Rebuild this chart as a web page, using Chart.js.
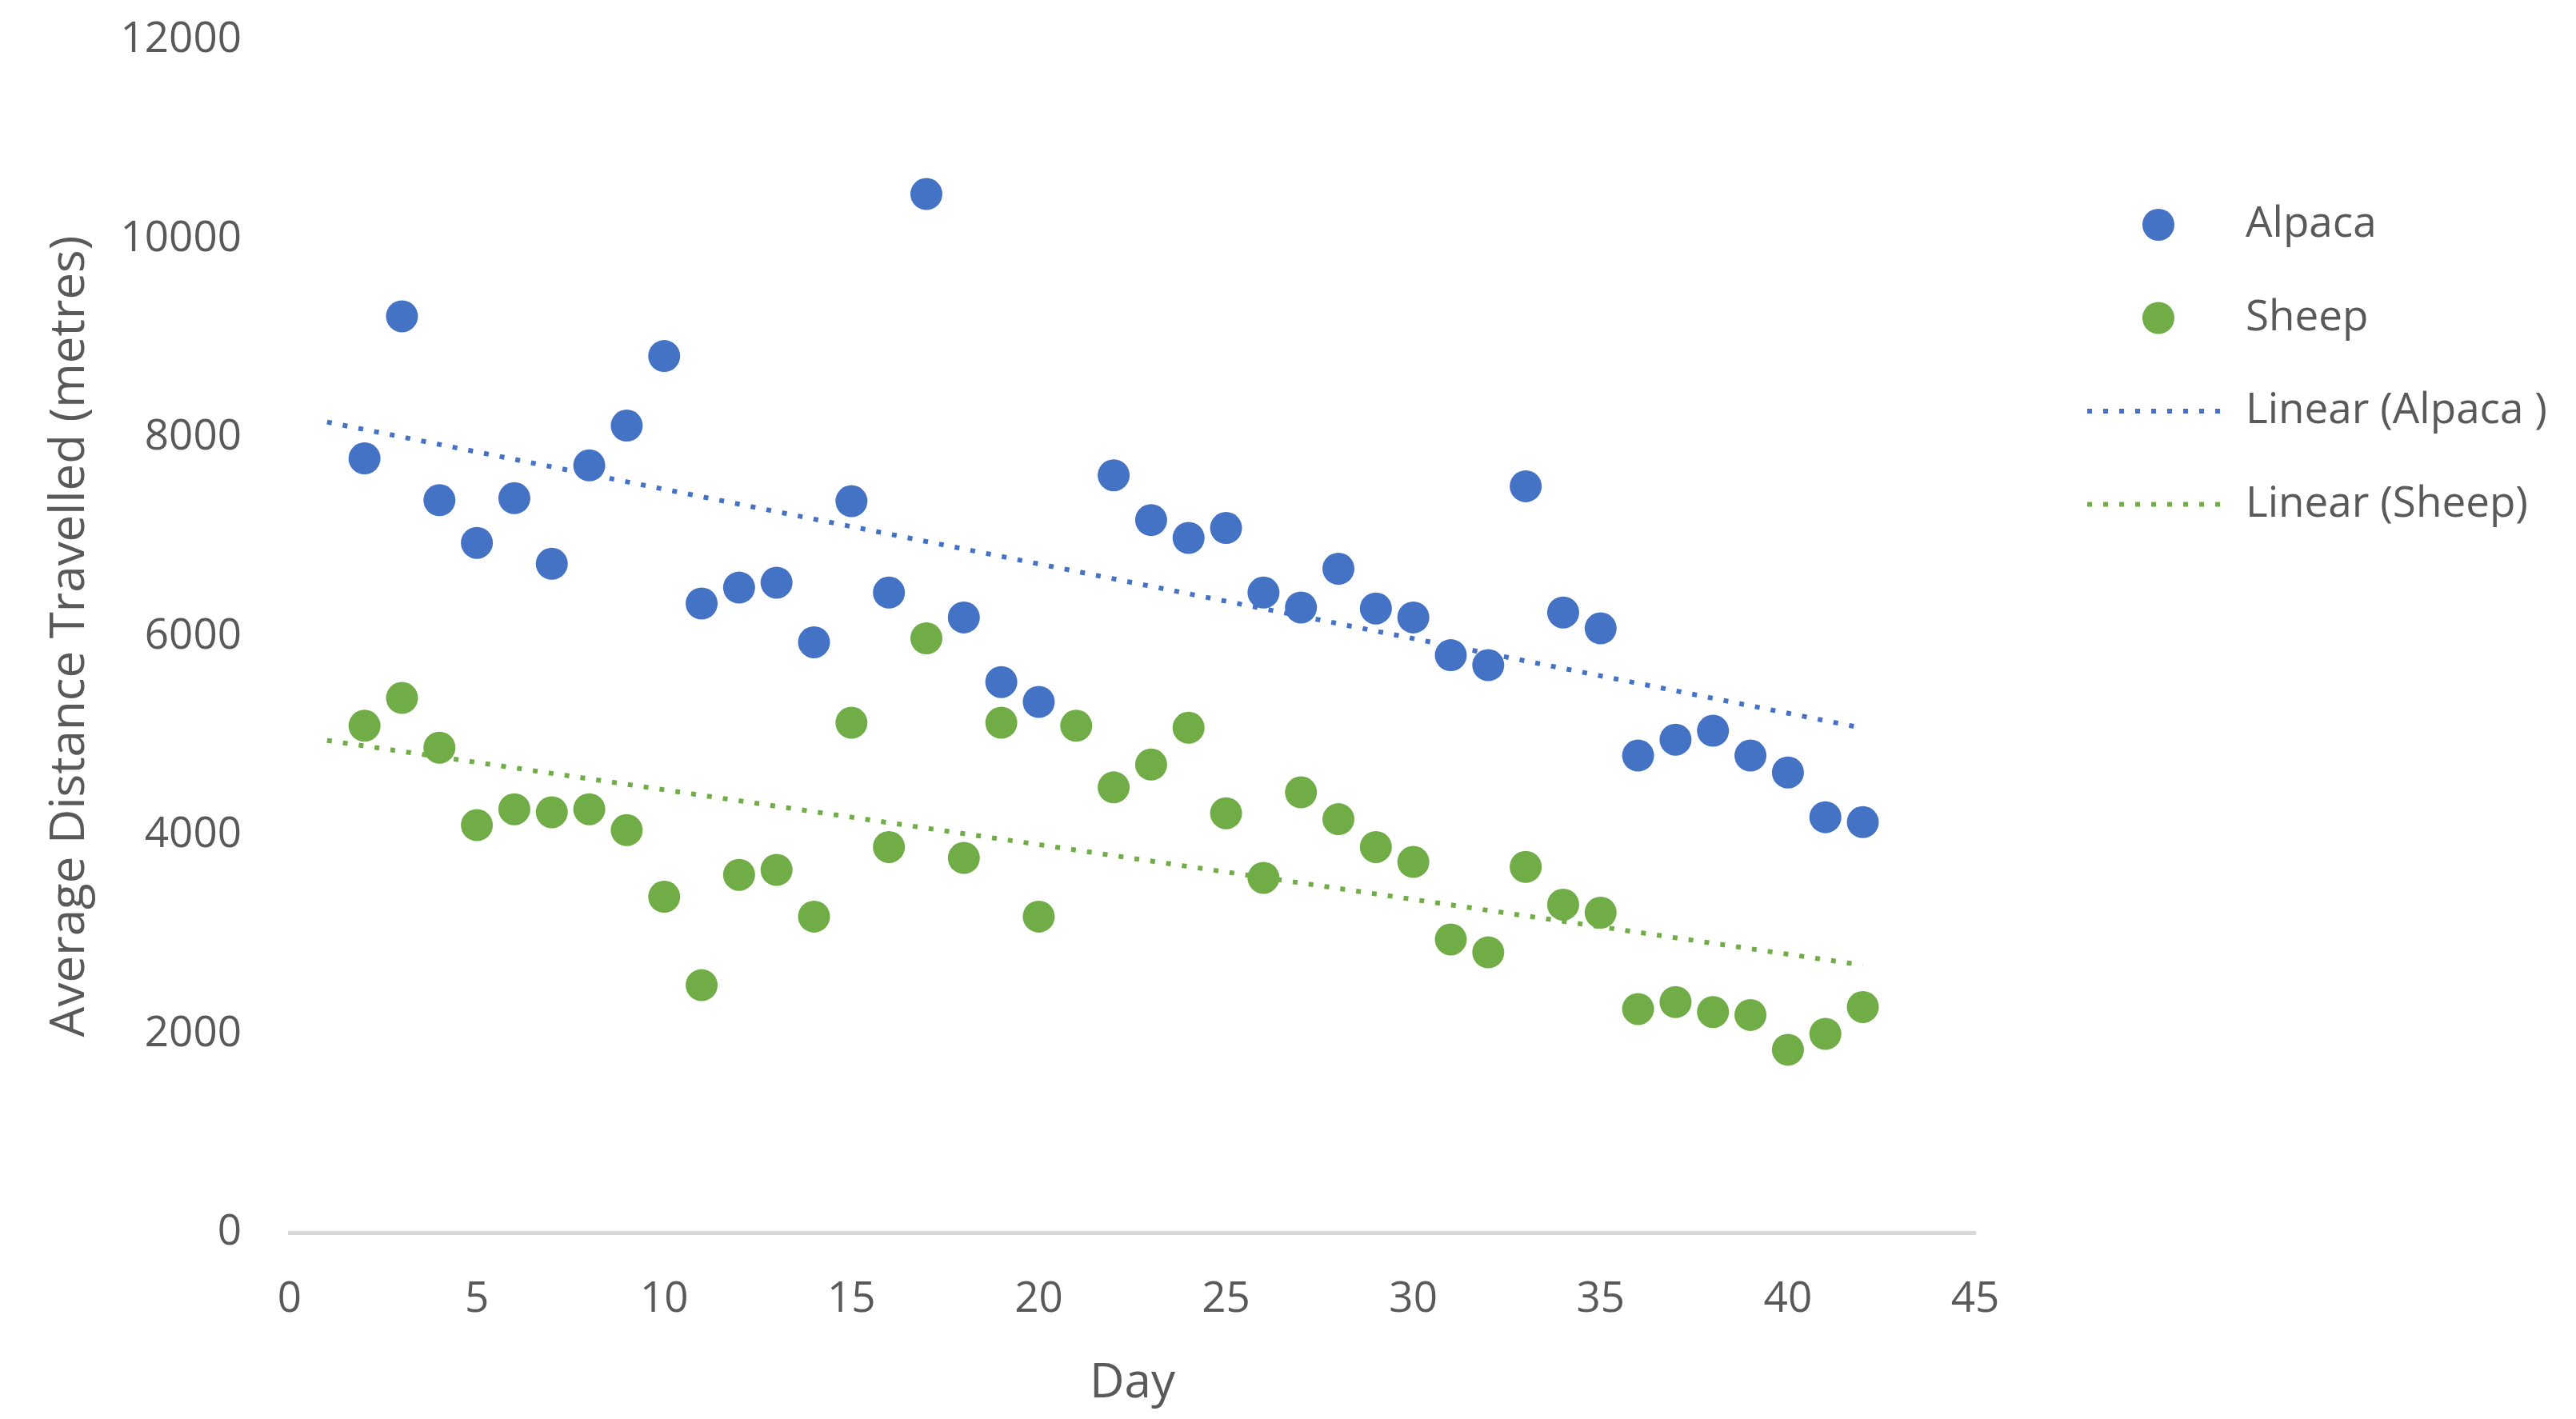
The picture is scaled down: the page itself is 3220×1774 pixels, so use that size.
<!DOCTYPE html>
<html>
<head>
<meta charset="utf-8">
<title>Average Distance Travelled</title>
<script src="https://cdn.jsdelivr.net/npm/chart.js@4.4.1/dist/chart.umd.min.js"></script>
<style>
  html, body { margin: 0; padding: 0; background: #fff; }
  #wrap { width: 3220px; height: 1774px; }
</style>
</head>
<body>
<div id="wrap"><canvas id="chart" width="3220" height="1774"></canvas></div>
<script>
// values
const days = [2, 3, 4, 5, 6, 7, 8, 9, 10, 11, 12, 13, 14, 15, 16, 17, 18, 19, 20, 21,
              22, 23, 24, 25, 26, 27, 28, 29, 30, 31, 32, 33, 34, 35, 36, 37, 38, 39, 40, 41, 42];
const alpaca = [7790, 9220, 7370, 6940, 7390, 6730, 7720, 8120, 8820, 6330, 6490, 6540, 5940, 7360, 6440, 10450, 6190, 5540, 5340, null,
                7620, 7170, 6990, 7090, 6440, 6290, 6680, 6280, 6190, 5810, 5710, 7510, 6240, 6080, 4800, 4960, 5050, 4800, 4630, 4180, 4130];
const sheep = [5100, 5380, 4880, 4100, 4260, 4230, 4260, 4050, 3380, 2490, 3600, 3650, 3180, 5130, 3880, 5980, 3770, 5130, 3180, 5100,
               4480, 4710, 5080, 4220, 3570, 4430, 4160, 3880, 3730, 2950, 2820, 3680, 3300, 3220, 2250, 2320, 2220, 2190, 1840, 2000, 2270];

// trendline end points (Excel linear trendlines)
const trendDays = [1, 42];
const alpacaTrend = [8156, 5076];
const sheepTrend = [4952, 2691];

const xTicks = [0, 5, 10, 15, 20, 25, 30, 35, 40, 45];
const yTicks = [0, 2000, 4000, 6000, 8000, 10000, 12000];

const blue = '#4472C4';
const green = '#70AD47';
const textColor = '#595959';
const fontFamily = '"Open Sans", "Segoe UI", sans-serif';

function toPoints(xs, ys) {
    return xs.map((x, i) => ({ x: x, y: ys[i] })).filter(p => p.y !== null);
}

// legend drawn on the right, like the Excel one
const sideLegend = {
    id: 'sideLegend',
    afterDraw(chart) {
        const ctx = chart.ctx;
        const firstRow = 281;
        const rowGap = 116.5;
        ctx.save();
        ctx.font = '53px ' + fontFamily;
        ctx.textBaseline = 'middle';
        chart.data.datasets.forEach((ds, i) => {
            const y = firstRow + i * rowGap;
            if (ds.type === 'line') {
                ctx.beginPath();
                ctx.setLineDash([6, 14]);
                ctx.lineWidth = 6;
                ctx.strokeStyle = ds.borderColor;
                ctx.moveTo(2609, y);
                ctx.lineTo(2789, y);
                ctx.stroke();
                ctx.setLineDash([]);
            } else {
                ctx.beginPath();
                ctx.fillStyle = ds.backgroundColor;
                ctx.arc(2698, y, 20, 0, Math.PI * 2);
                ctx.fill();
            }
            ctx.fillStyle = textColor;
            ctx.fillText(ds.label, 2807, y);
        });
        ctx.restore();
    }
};

const trendStyle = (color) => ({
    type: 'line',
    borderColor: color,
    borderWidth: 6,
    borderDash: [6, 14],
    pointRadius: 0,
    fill: false,
    order: 1
});

new Chart(document.getElementById('chart'), {
    type: 'scatter',
    data: {
        datasets: [
            {
                label: 'Alpaca',
                data: toPoints(days, alpaca),
                backgroundColor: blue,
                borderWidth: 0,
                pointRadius: 20,
                order: 2
            },
            {
                label: 'Sheep',
                data: toPoints(days, sheep),
                backgroundColor: green,
                borderWidth: 0,
                pointRadius: 20,
                order: 2
            },
            Object.assign({ label: 'Linear (Alpaca )', data: toPoints(trendDays, alpacaTrend) }, trendStyle(blue)),
            Object.assign({ label: 'Linear (Sheep)', data: toPoints(trendDays, sheepTrend) }, trendStyle(green))
        ]
    },
    options: {
        responsive: false,
        devicePixelRatio: 1,
        animation: false,
        layout: {
            padding: { top: 50, right: 751, bottom: 0, left: 0 }
        },
        scales: {
            x: {
                type: 'linear',
                min: 0,
                max: 45,
                afterBuildTicks: (scale) => { scale.ticks = xTicks.map(v => ({ value: v })); },
                afterFit: (scale) => { scale.height = 233; },
                grid: { display: false, drawTicks: false },
                border: { display: true, color: '#d9d9d9', width: 5 },
                ticks: {
                    color: textColor,
                    font: { family: fontFamily, size: 53 },
                    padding: 52,
                    maxRotation: 0,
                    callback: (v) => String(v)
                },
                title: {
                    display: true,
                    text: 'Day',
                    color: textColor,
                    font: { family: fontFamily, size: 60 },
                    padding: { top: 0, bottom: 8 }
                }
            },
            y: {
                type: 'linear',
                min: 0,
                max: 12000,
                afterBuildTicks: (scale) => { scale.ticks = yTicks.map(v => ({ value: v })); },
                afterFit: (scale) => {
                    scale.width = 362;
                    // the tick padding only pushes labels sideways, not the plot top
                    scale.paddingTop = 30;
                    scale.paddingBottom = 0;
                },
                grid: { display: false, drawTicks: false },
                border: { display: false },
                ticks: {
                    color: textColor,
                    font: { family: fontFamily, size: 53 },
                    padding: 60,
                    callback: (v) => String(v)
                },
                title: {
                    display: true,
                    text: 'Average Distance Travelled (metres)',
                    color: textColor,
                    font: { family: fontFamily, size: 60 },
                    padding: { top: 52, bottom: 0 }
                }
            }
        },
        plugins: {
            legend: { display: false },
            tooltip: { enabled: false }
        }
    },
    plugins: [sideLegend]
});
</script>
</body>
</html>
